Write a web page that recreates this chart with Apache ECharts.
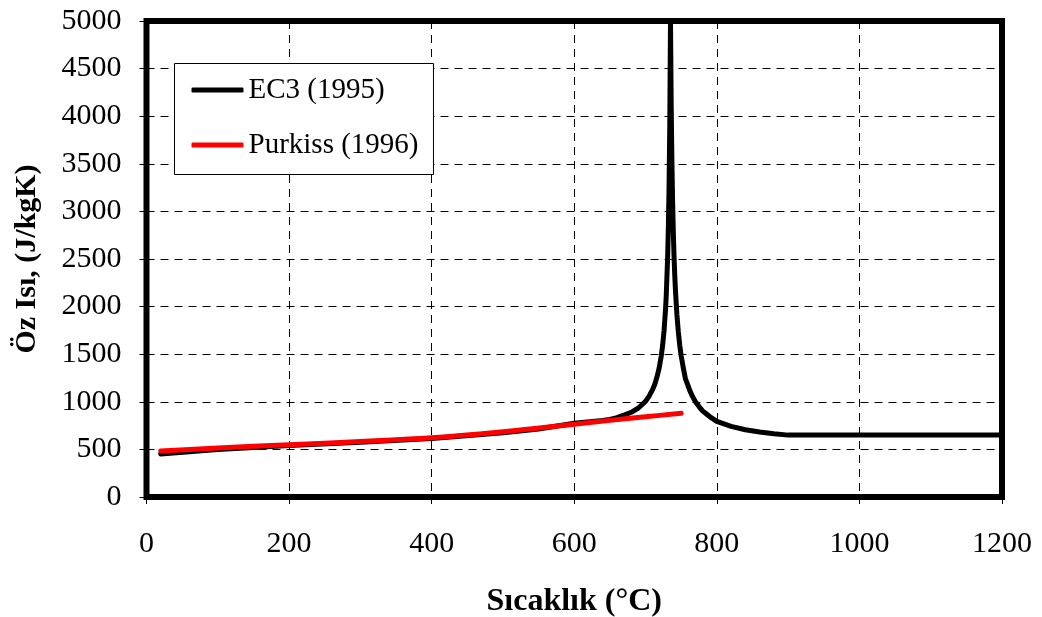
<!DOCTYPE html>
<html>
<head>
<meta charset="utf-8">
<script src="https://cdn.jsdelivr.net/npm/echarts@6/dist/echarts.min.js"></script>
<style>
html,body{margin:0;padding:0;background:#fff;}
#chart{width:1042px;height:617px;}
</style>
</head>
<body>
<div id="chart"></div>
<script>
// X ticks and Y ticks
const xTicks = [0, 200, 400, 600, 800, 1000, 1200];
const yTicks = [0, 500, 1000, 1500, 2000, 2500, 3000, 3500, 4000, 4500, 5000];

// EC3 (1995) series — temperature (°C) and specific heat (J/kgK)
const ec3Temp = [20, 100, 200, 300, 400, 500, 550, 600, 640, 650, 660, 670, 680, 690, 700, 705, 710, 713, 716, 719, 722, 724, 726, 728, 729, 731, 732, 733, 734, 735, 736, 737, 738, 739, 740, 741, 742, 744, 746, 748, 750, 753, 756, 759, 762, 766, 770, 775, 780, 785, 790, 800, 820, 840, 860, 880, 900, 1200];
const ec3Val  = [452, 500, 540, 575, 615, 675, 715, 775, 805, 815, 833, 860, 890, 935, 1005, 1060, 1130, 1185, 1260, 1350, 1480, 1595, 1750, 1965, 2110, 2520, 2835, 3265, 3915, 5000, 4110, 3515, 3090, 2775, 2525, 2325, 2165, 1915, 1733, 1593, 1483, 1355, 1240, 1182, 1120, 1054, 1000, 950, 905, 875, 845, 795, 742, 706, 682, 664, 650, 650];

// Purkiss (1996) series
const purkissTemp = [20, 100, 200, 300, 400, 500, 600, 650, 700, 750];
const purkissVal  = [483, 515, 549, 583, 622, 685, 764, 805, 843, 879];

const seriesNames = ['EC3 (1995)', 'Purkiss (1996)'];
const xName = 'Sıcaklık (°C)';
const yName = 'Öz Isı, (J/kgK)';

const pair = (xs, ys) => xs.map((x, i) => [x, ys[i]]);
const FONT = '"Liberation Serif","Times New Roman",serif';

const chart = echarts.init(document.getElementById('chart'), null, {renderer: 'canvas'});
chart.setOption({
  animation: false,
  backgroundColor: '#fff',
  textStyle: {fontFamily: FONT},
  grid: {
    left: 146.5, right: 40, top: 21, bottom: 120,
    outerBoundsMode: 'none', containLabel: false,
    show: true, borderColor: '#000', borderWidth: 6, backgroundColor: 'transparent'
  },
  legend: {
    orient: 'vertical',
    left: 174.5, top: 63.5,
    padding: [12, 15, 15, 17],
    itemGap: 26,
    itemWidth: 52, itemHeight: 5,
    icon: 'roundRect',
    backgroundColor: '#fff',
    borderColor: '#000', borderWidth: 1,
    textStyle: {fontFamily: FONT, fontSize: 29, color: '#000'},
    data: seriesNames
  },
  xAxis: {
    type: 'value', min: xTicks[0], max: xTicks[xTicks.length - 1], interval: 200,
    name: xName, nameLocation: 'middle', nameGap: 89,
    nameTextStyle: {fontFamily: FONT, fontSize: 32, fontWeight: 'bold', color: '#000'},
    axisLine: {show: false},
    axisTick: {show: true, length: 7, lineStyle: {color: '#000', width: 1}},
    axisLabel: {fontFamily: FONT, fontSize: 30, color: '#000', margin: 32, formatter: v => String(v)},
    splitLine: {show: true, lineStyle: {color: '#000', type: [8, 6], width: 1}}
  },
  yAxis: {
    type: 'value', min: yTicks[0], max: yTicks[yTicks.length - 1], interval: 500,
    name: yName, nameLocation: 'middle', nameGap: 104, nameRotate: 90,
    nameTextStyle: {fontFamily: FONT, fontSize: 30, fontWeight: 'bold', color: '#000'},
    axisLine: {show: false},
    axisTick: {show: true, length: 7, lineStyle: {color: '#000', width: 1}},
    axisLabel: {fontFamily: FONT, fontSize: 30, color: '#000', margin: 25, formatter: v => String(v)},
    splitLine: {show: true, lineStyle: {color: '#000', type: [8, 6], width: 1}}
  },
  series: [
    {
      name: seriesNames[0], type: 'line', data: pair(ec3Temp, ec3Val),
      symbol: 'none', smooth: false, color: '#000',
      lineStyle: {color: '#000', width: 5, cap: 'round', join: 'round'}, z: 3
    },
    {
      name: seriesNames[1], type: 'line', data: pair(purkissTemp, purkissVal),
      symbol: 'none', smooth: 0.4, color: '#ff0000',
      lineStyle: {color: '#ff0000', width: 5, cap: 'round', join: 'round'}, z: 4
    }
  ]
});
</script>
</body>
</html>
